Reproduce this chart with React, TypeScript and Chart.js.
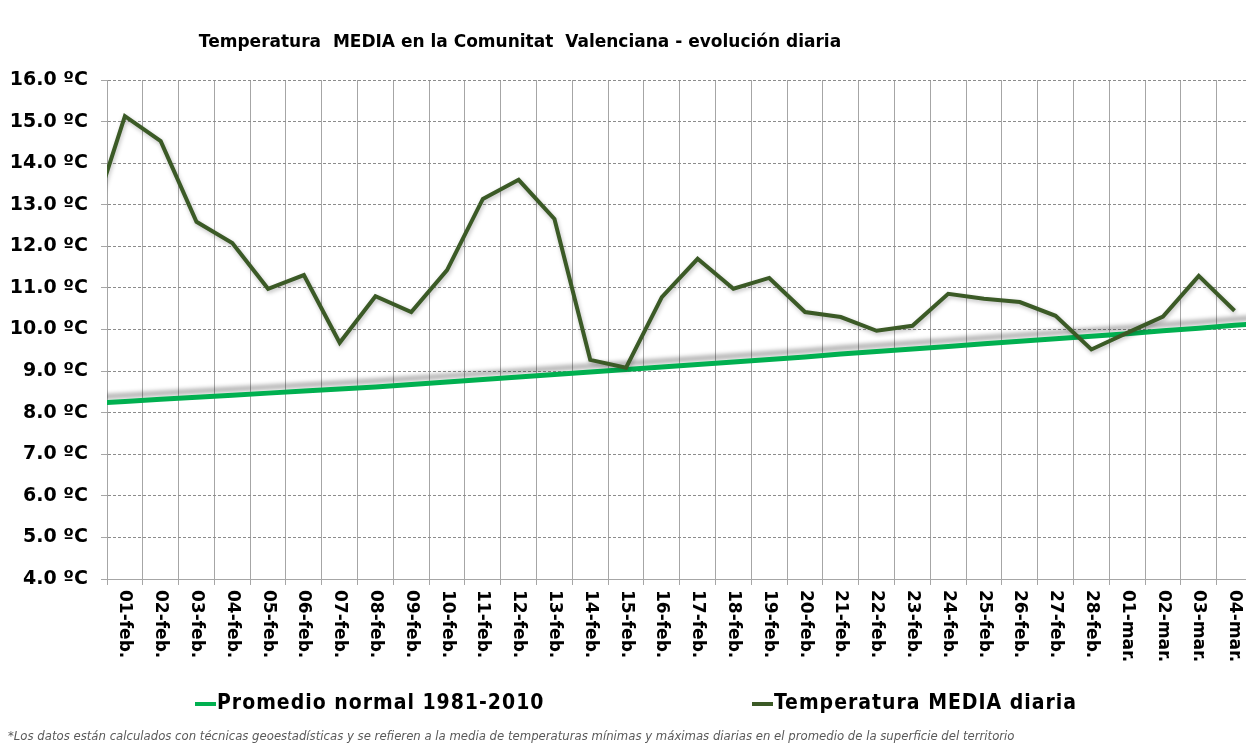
import React, { useEffect, useRef } from 'react';
import { Chart, registerables } from 'chart.js';

Chart.register(...registerables);

// Categories (first and last are only partly visible, clipped by the plot edges)
const CATEGORIES = [
  '31-ene.',
  '01-feb.', '02-feb.', '03-feb.', '04-feb.', '05-feb.', '06-feb.', '07-feb.',
  '08-feb.', '09-feb.', '10-feb.', '11-feb.', '12-feb.', '13-feb.', '14-feb.',
  '15-feb.', '16-feb.', '17-feb.', '18-feb.', '19-feb.', '20-feb.', '21-feb.',
  '22-feb.', '23-feb.', '24-feb.', '25-feb.', '26-feb.', '27-feb.', '28-feb.',
  '01-mar.', '02-mar.', '03-mar.', '04-mar.',
  '05-mar.',
];

const TEMPERATURA_MEDIA: (number | null)[] = [
  12.45,
  15.13, 14.53, 12.59, 12.08, 10.98, 11.31, 9.68,
  10.8, 10.42, 11.43, 13.14, 13.6, 12.66, 9.27,
  9.08, 10.78, 11.7, 10.98, 11.24, 10.42, 10.3,
  9.97, 10.09, 10.86, 10.74, 10.66, 10.33, 9.52,
  9.92, 10.31, 11.29, 10.45,
  null,
];

const PROMEDIO_NORMAL = [
  8.22,
  8.27, 8.32, 8.37, 8.42, 8.47, 8.52, 8.57,
  8.62, 8.68, 8.74, 8.8, 8.86, 8.92, 8.98,
  9.04, 9.1, 9.16, 9.22, 9.28, 9.34, 9.41,
  9.47, 9.53, 9.59, 9.66, 9.72, 9.78, 9.84,
  9.9, 9.97, 10.03, 10.1,
  10.17,
];

const Y_MIN = 4;
const Y_MAX = 16;
const Y_STEP = 1;
const X_VIEW_MAX = 31.82;

const TITLE = 'Temperatura  MEDIA en la Comunitat  Valenciana - evolución diaria';
const LEGEND_NORMAL = 'Promedio normal 1981-2010';
const LEGEND_MEDIA = 'Temperatura MEDIA diaria';
const FOOTNOTE =
  '*Los datos están calculados con técnicas geoestadísticas y se refieren a la media de temperaturas mínimas y máximas diarias en el promedio de la superficie del territorio';

const DARK = '#3B5A26';
const GREEN = '#00B050';
const GRID = '#A6A6A6';

export default function App() {
  const ref = useRef<HTMLCanvasElement>(null);

  useEffect(() => {
    const canvas = ref.current;
    if (!canvas) return;

    const toPoints = (arr: (number | null)[]) => arr.map((v, k) => ({ x: k - 0.5, y: v }));

    const shadowPlugin = {
      id: 'lineShadow',
      beforeDatasetDraw(chart: any, args: any) {
        const ctx = chart.ctx;
        ctx.save();
        if (args.index === 0) {
          ctx.shadowColor = 'rgba(0,0,0,0.25)';
          ctx.shadowBlur = 4;
          ctx.shadowOffsetX = 1;
          ctx.shadowOffsetY = 2;
        } else {
          ctx.shadowColor = 'rgba(0,0,0,0.32)';
          ctx.shadowBlur = 4;
          ctx.shadowOffsetX = 0;
          ctx.shadowOffsetY = -6;
        }
      },
      afterDatasetDraw(chart: any) {
        chart.ctx.restore();
      },
    };

    const decorPlugin = {
      id: 'decor',
      afterDraw(chart: any) {
        const ctx = chart.ctx;
        const area = chart.chartArea;
        const xs = chart.scales.x;
        ctx.save();
        // Title
        ctx.fillStyle = '#000';
        ctx.font = 'bold 17px "DejaVu Sans"';
        ctx.textAlign = 'center';
        ctx.textBaseline = 'middle';
        ctx.fillText(TITLE, 520, 43);

        // Rotated category labels
        ctx.font = 'bold 17px "DejaVu Sans"';
        ctx.textAlign = 'left';
        ctx.textBaseline = 'middle';
        CATEGORIES.forEach((lab, k) => {
          const px = xs.getPixelForValue(k - 0.5);
          if (px < area.left || px > chart.width) return;
          ctx.save();
          ctx.translate(px, area.bottom + 11);
          ctx.rotate(Math.PI / 2);
          ctx.fillText(lab, 0, 0);
          ctx.restore();
        });

        // Legend
        const ly = 704;
        ctx.lineWidth = 4;
        ctx.strokeStyle = GREEN;
        ctx.beginPath();
        ctx.moveTo(195, ly);
        ctx.lineTo(216, ly);
        ctx.stroke();
        ctx.strokeStyle = DARK;
        ctx.beginPath();
        ctx.moveTo(752, ly);
        ctx.lineTo(773, ly);
        ctx.stroke();
        ctx.font = 'bold 21px "DejaVu Sans Condensed", "Liberation Sans Narrow", "Roboto", sans-serif';
        (ctx as any).letterSpacing = '1px';
        ctx.fillStyle = '#000';
        ctx.textAlign = 'left';
        ctx.fillText(LEGEND_NORMAL, 217, ly);
        ctx.fillText(LEGEND_MEDIA, 774, ly);
        (ctx as any).letterSpacing = '0px';

        // Footnote
        ctx.font = 'italic 13px "Liberation Sans Narrow", "DejaVu Sans Condensed", "Roboto", sans-serif';
        ctx.fillStyle = '#595959';
        ctx.fillText(FOOTNOTE, 8, 737);
        ctx.restore();
      },
    };

    const chart = new Chart(canvas, {
      type: 'line',
      data: {
        datasets: [
          {
            label: LEGEND_MEDIA,
            data: toPoints(TEMPERATURA_MEDIA) as any,
            borderColor: DARK,
            borderWidth: 4,
            pointRadius: 0,
            tension: 0,
            spanGaps: false,
          },
          {
            label: LEGEND_NORMAL,
            data: toPoints(PROMEDIO_NORMAL) as any,
            borderColor: GREEN,
            borderWidth: 5,
            pointRadius: 0,
            tension: 0,
          },
        ],
      },
      options: {
        animation: false,
        responsive: false,
        maintainAspectRatio: false,
        layout: { padding: { top: 80, left: 0, right: 0, bottom: 0 } },
        plugins: {
          legend: { display: false },
          title: { display: false },
          tooltip: { enabled: false },
        },
        scales: {
          x: {
            type: 'linear',
            min: 0,
            max: X_VIEW_MAX,
            afterBuildTicks: (s: any) => {
              const t = [];
              for (let i = 0; i <= Math.floor(X_VIEW_MAX); i++) t.push({ value: i });
              s.ticks = t;
            },
            afterFit: (s: any) => {
              s.height = 172;
            },
            ticks: { display: false },
            grid: { color: GRID, lineWidth: 1, tickLength: 6, drawTicks: true, tickColor: GRID },
            border: { color: GRID, width: 1 },
          },
          y: {
            min: Y_MIN,
            max: Y_MAX,
            afterFit: (s: any) => {
              s.width = 107;
            },
            ticks: {
              stepSize: Y_STEP,
              padding: 13,
              color: '#000',
              font: { family: '"DejaVu Sans"', size: 19, weight: 'bold' },
              callback: (v: any) => `${Number(v).toFixed(1)} ºC`,
            },
            grid: { color: '#8C8C8C', lineWidth: 1, tickLength: 6, tickColor: GRID },
            border: { color: GRID, width: 1, dash: [3, 2] },
          },
        },
      } as any,
      plugins: [shadowPlugin, decorPlugin],
    });

    return () => chart.destroy();
  }, []);

  return (
    <div
      style={{
        position: 'absolute',
        left: 0,
        top: 0,
        width: 1246,
        height: 751,
        overflow: 'hidden',
        background: '#fff',
      }}
    >
      <canvas ref={ref} width={1246} height={751} style={{ display: 'block', width: 1246, height: 751 }} />
    </div>
  );
}
